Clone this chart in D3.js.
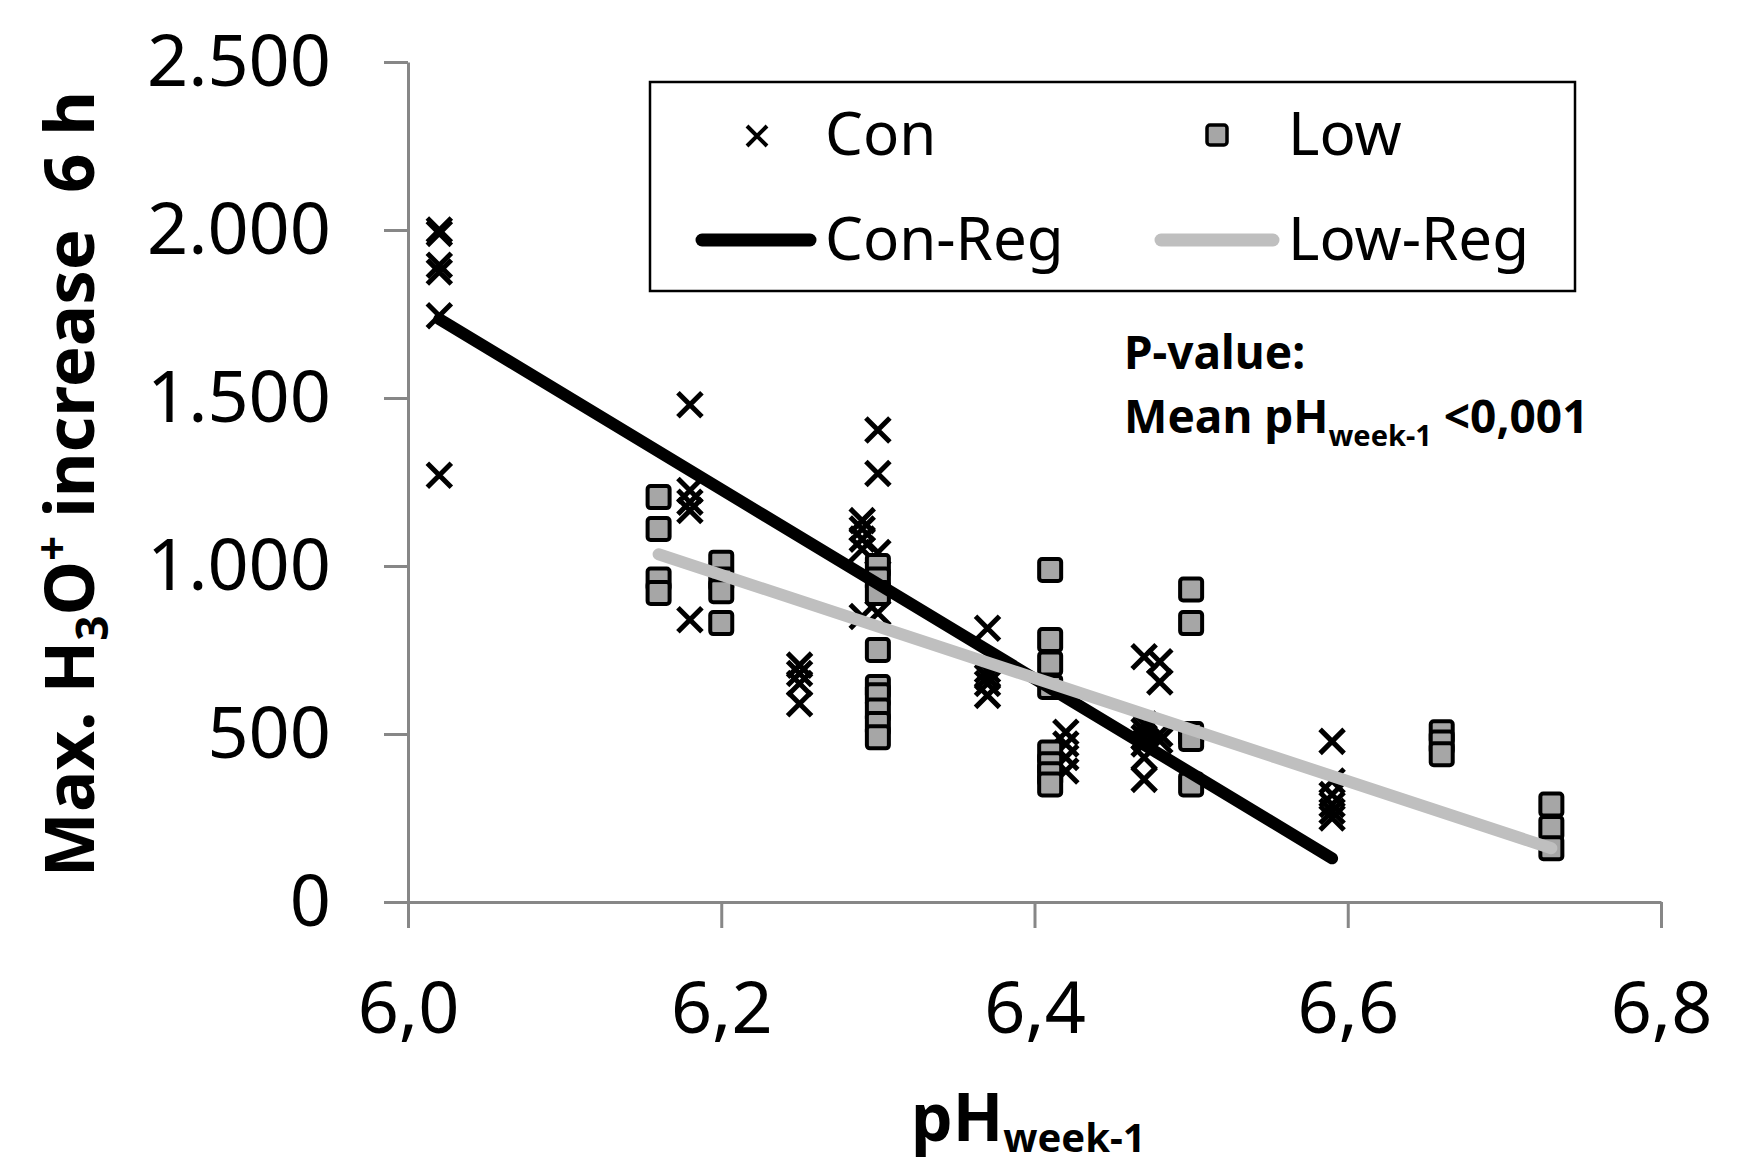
<!DOCTYPE html>
<html>
<head>
<meta charset="utf-8">
<script src="https://cdn.jsdelivr.net/npm/d3@7"></script>
<style>
  body { margin: 0; background: #fff; }
  text { font-family: "Noto Sans", "Open Sans", sans-serif; }
</style>
</head>
<body>
<div id="chart-container"></div>
<script>
// Con group: [pH week-1, max H3O+ increase 6 h]
const conPoints = [
  [6.02, 2000], [6.02, 1990], [6.02, 1895], [6.02, 1875], [6.02, 1745], [6.02, 1270],
  [6.18, 1480], [6.18, 1225], [6.18, 1190], [6.18, 1165], [6.18, 840],
  [6.25, 705], [6.25, 680], [6.25, 650], [6.25, 590],
  [6.29, 1135], [6.29, 1110], [6.29, 1080], [6.29, 1050], [6.29, 850],
  [6.3, 1405], [6.3, 1275], [6.3, 1040], [6.3, 860],
  [6.37, 815], [6.37, 690], [6.37, 670], [6.37, 650], [6.37, 615],
  [6.42, 505], [6.42, 470], [6.42, 430], [6.42, 390],
  [6.47, 730], [6.47, 530], [6.47, 510], [6.47, 490], [6.47, 470], [6.47, 430], [6.47, 365],
  [6.48, 715], [6.48, 655], [6.48, 500], [6.48, 480],
  [6.59, 478], [6.59, 360], [6.59, 320], [6.59, 290], [6.59, 270], [6.59, 250],
];

// Low group
const lowPoints = [
  [6.16, 1205], [6.16, 1110], [6.16, 960], [6.16, 920],
  [6.2, 1010], [6.2, 960], [6.2, 925], [6.2, 830],
  [6.3, 1000], [6.3, 960], [6.3, 920], [6.3, 750], [6.3, 640], [6.3, 615], [6.3, 570], [6.3, 530], [6.3, 490],
  [6.41, 988], [6.41, 780], [6.41, 710], [6.41, 640], [6.41, 445], [6.41, 410], [6.41, 380], [6.41, 350],
  [6.5, 930], [6.5, 830], [6.5, 500], [6.5, 485], [6.5, 350],
  [6.66, 505], [6.66, 475], [6.66, 440],
  [6.73, 290], [6.73, 220], [6.73, 160],
];

// regression lines (start / end)
const conRegPH = [6.02, 6.59];
const conRegVal = [1735, 130];
const lowRegPH = [6.16, 6.73];
const lowRegVal = [1035, 160];

const xTicks = [6.0, 6.2, 6.4, 6.6, 6.8];
const yTicks = [0, 500, 1000, 1500, 2000, 2500];

let margin = { top: 62, right: 101, bottom: 263, left: 408 };
let width = 1762 - margin.left - margin.right;
let height = 1165 - margin.top - margin.bottom;

const axisColor = "#878787";
const lowFill = "#a6a6a6";
const lowRegColor = "#bfbfbf";

const locale = d3.formatLocale({ decimal: ",", thousands: ".", grouping: [3], currency: ["", ""] });

var svg = d3
  .select("#chart-container")
  .append("svg")
  .attr("width", 1762)
  .attr("height", 1165)
  .append("g")
  .attr("transform", "translate(" + margin.left + "," + margin.top + ")");

let xScale = d3.scaleLinear().domain([6.0, 6.8]).range([0, width]);
let yScale = d3.scaleLinear().domain([0, 2500]).range([height, 0]);

// Adding Y axis
let yAxis = svg
  .append("g")
  .call(
    d3.axisLeft(yScale)
      .tickValues(yTicks)
      .tickSize(24)
      .tickSizeOuter(0)
      .tickPadding(53)
      .tickFormat(locale.format(","))
  );

// Adding X axis
let xAxis = svg
  .append("g")
  .attr("transform", "translate(0," + height + ")")
  .call(
    d3.axisBottom(xScale)
      .tickValues(xTicks)
      .tickSize(26)
      .tickSizeOuter(0)
      .tickPadding(54)
      .tickFormat(locale.format(",.1f"))
  );

[xAxis, yAxis].forEach((ax) => {
  ax.selectAll("path, line").attr("stroke", axisColor).attr("stroke-width", 3);
  ax.selectAll("text")
    .attr("fill", "#000")
    .style("font-family", '"Noto Sans", "Open Sans", sans-serif')
    .style("font-size", "72px");
});

// Con points (crosses)
const s = 12;
svg
  .append("g")
  .selectAll(".con")
  .data(conPoints)
  .enter()
  .append("path")
  .attr("class", "con")
  .attr("transform", (d) => "translate(" + xScale(d[0]) + "," + yScale(d[1]) + ")")
  .attr("d", "M" + -s + "," + -s + "L" + s + "," + s + "M" + -s + "," + s + "L" + s + "," + -s)
  .attr("stroke", "#000")
  .attr("stroke-width", 5)
  .attr("fill", "none");

// Low points (squares)
svg
  .append("g")
  .selectAll(".low")
  .data(lowPoints)
  .enter()
  .append("rect")
  .attr("class", "low")
  .attr("x", (d) => xScale(d[0]) - 11)
  .attr("y", (d) => yScale(d[1]) - 11)
  .attr("width", 22)
  .attr("height", 22)
  .attr("rx", 3)
  .attr("fill", lowFill)
  .attr("stroke", "#000")
  .attr("stroke-width", 4);

// regression lines
let line = d3
  .line()
  .x((d) => xScale(d[0]))
  .y((d) => yScale(d[1]));

svg
  .append("path")
  .datum(d3.zip(conRegPH, conRegVal))
  .attr("d", line)
  .attr("fill", "none")
  .attr("stroke", "#000")
  .attr("stroke-width", 12)
  .attr("stroke-linecap", "round");

svg
  .append("path")
  .datum(d3.zip(lowRegPH, lowRegVal))
  .attr("d", line)
  .attr("fill", "none")
  .attr("stroke", lowRegColor)
  .attr("stroke-width", 12)
  .attr("stroke-linecap", "round");

// Adding the legend
let root = d3.select("#chart-container svg");
let legend = root.append("g").attr("id", "legend");

legend
  .append("rect")
  .attr("x", 650)
  .attr("y", 82)
  .attr("width", 925)
  .attr("height", 209)
  .attr("fill", "#fff")
  .attr("stroke", "#000")
  .attr("stroke-width", 2.5);

const ls = 10;
legend
  .append("path")
  .attr("transform", "translate(757,136)")
  .attr("d", "M" + -ls + "," + -ls + "L" + ls + "," + ls + "M" + -ls + "," + ls + "L" + ls + "," + -ls)
  .attr("stroke", "#000")
  .attr("stroke-width", 4);

legend
  .append("rect")
  .attr("x", 1207)
  .attr("y", 125)
  .attr("width", 20)
  .attr("height", 20)
  .attr("rx", 3)
  .attr("fill", lowFill)
  .attr("stroke", "#000")
  .attr("stroke-width", 3.5);

legend
  .append("line")
  .attr("x1", 702).attr("x2", 810)
  .attr("y1", 240).attr("y2", 240)
  .attr("stroke", "#000")
  .attr("stroke-width", 13)
  .attr("stroke-linecap", "round");

legend
  .append("line")
  .attr("x1", 1161).attr("x2", 1273)
  .attr("y1", 240).attr("y2", 240)
  .attr("stroke", lowRegColor)
  .attr("stroke-width", 13)
  .attr("stroke-linecap", "round");

const legendLabels = [
  ["Con", 825, 155],
  ["Low", 1288, 155],
  ["Con-Reg", 825, 260],
  ["Low-Reg", 1288, 260],
];
legend
  .selectAll(".legend-label")
  .data(legendLabels)
  .enter()
  .append("text")
  .attr("class", "legend-label")
  .attr("x", (d) => d[1])
  .attr("y", (d) => d[2])
  .style("font-size", "60px")
  .text((d) => d[0]);

// P-value note
root
  .append("text")
  .attr("x", 1124)
  .attr("y", 369)
  .style("font-size", "46px")
  .style("font-weight", "bold")
  .text("P-value:");

let note = root
  .append("text")
  .attr("x", 1124)
  .attr("y", 433)
  .style("font-size", "46px")
  .style("font-weight", "bold")
  .style("white-space", "pre");
note.append("tspan").text("Mean pH");
note.append("tspan").attr("dy", 13).style("font-size", "29px").text("week-1");
note.append("tspan").attr("dy", -13).text(" <0,001");

// x axis title
let xTitle = root
  .append("text")
  .attr("x", 911)
  .attr("y", 1141)
  .style("font-size", "66px")
  .style("font-weight", "bold");
xTitle.append("tspan").text("pH");
xTitle.append("tspan").attr("dy", 11).style("font-size", "40px").text("week-1");

// y axis title
let yTitle = root
  .append("text")
  .attr("transform", "translate(94,484) rotate(-90)")
  .style("text-anchor", "middle")
  .style("font-size", "69px")
  .style("font-weight", "bold")
  .style("white-space", "pre");
yTitle.append("tspan").text("Max. H");
yTitle.append("tspan").attr("dy", 14).style("font-size", "44px").text("3");
yTitle.append("tspan").attr("dy", -14).text("O");
yTitle.append("tspan").attr("dy", -26).style("font-size", "44px").text("+");
yTitle.append("tspan").attr("dy", 26).text(" increase  6 h");
</script>
</body>
</html>
